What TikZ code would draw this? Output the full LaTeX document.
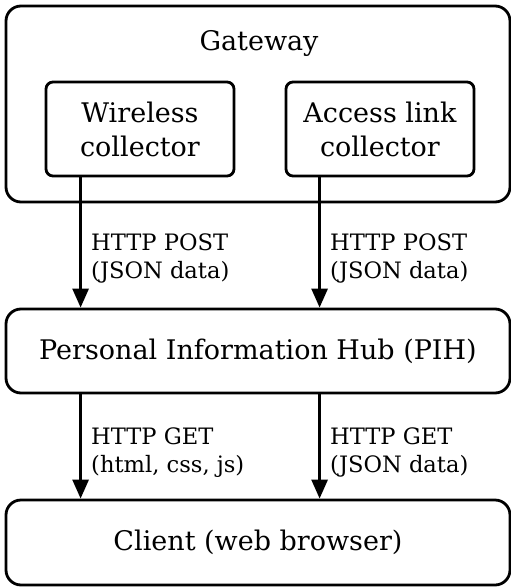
\documentclass[tikz,border=0pt]{standalone}
\usepackage{fontspec}
\setmainfont{DejaVu Serif}
\usetikzlibrary{arrows.meta,calc}
\begin{document}
\begin{tikzpicture}[x=1pt,y=1pt,
  box/.style={draw=black, line width=2.8pt, rounded corners=#1, inner sep=0pt, align=center},
  box/.default=12pt,
  big/.style={font=\fontsize{27}{34}\selectfont},
  lbl/.style={font=\fontsize{22.6}{28.5}\selectfont, inner sep=0pt, anchor=north west, align=left},
  arr/.style={line width=2.8pt, -{Triangle[length=19pt,width=16pt]}}
]
\useasboundingbox (0,0) rectangle (511,-587);
\node[box=15pt, minimum width=504pt, minimum height=196pt] (gw) at (258,-104) {};
\node[big, anchor=base, inner sep=0pt] (gwt) at (259,-50) {Gateway};
\node[box=7pt, big, minimum width=188pt, minimum height=94pt] (wc) at (140,-129) {Wireless\\collector};
\node[box=7pt, big, minimum width=188pt, minimum height=94pt] (ac) at (380,-129) {Access link\\collector};
\node[box=15pt, big, minimum width=504pt, minimum height=84pt] (pih) at (258,-351) {Personal Information Hub (PIH)};
\node[box=15pt, big, minimum width=504pt, minimum height=85pt] (cl) at (258,-542.5) {Client (web browser)};
\coordinate (a1) at ($(wc.south west)+(36,0)$);
\coordinate (a2) at ($(ac.south west)+(35,0)$);
\draw[arr] (a1) -- (a1 |- pih.north);
\draw[arr] (a2) -- (a2 |- pih.north);
\draw[arr] (a1 |- pih.south) -- (a1 |- cl.north);
\draw[arr] (a2 |- pih.south) -- (a2 |- cl.north);
\node[lbl] (l1) at (91,-233.5) {HTTP POST\\(JSON data)};
\node[lbl] (l2) at (330,-233.5) {HTTP POST\\(JSON data)};
\node[lbl] (l3) at (91,-427.5) {HTTP GET\\(html, css, js)};
\node[lbl] (l4) at (330,-427.5) {HTTP GET\\(JSON data)};
\end{tikzpicture}
\end{document}
